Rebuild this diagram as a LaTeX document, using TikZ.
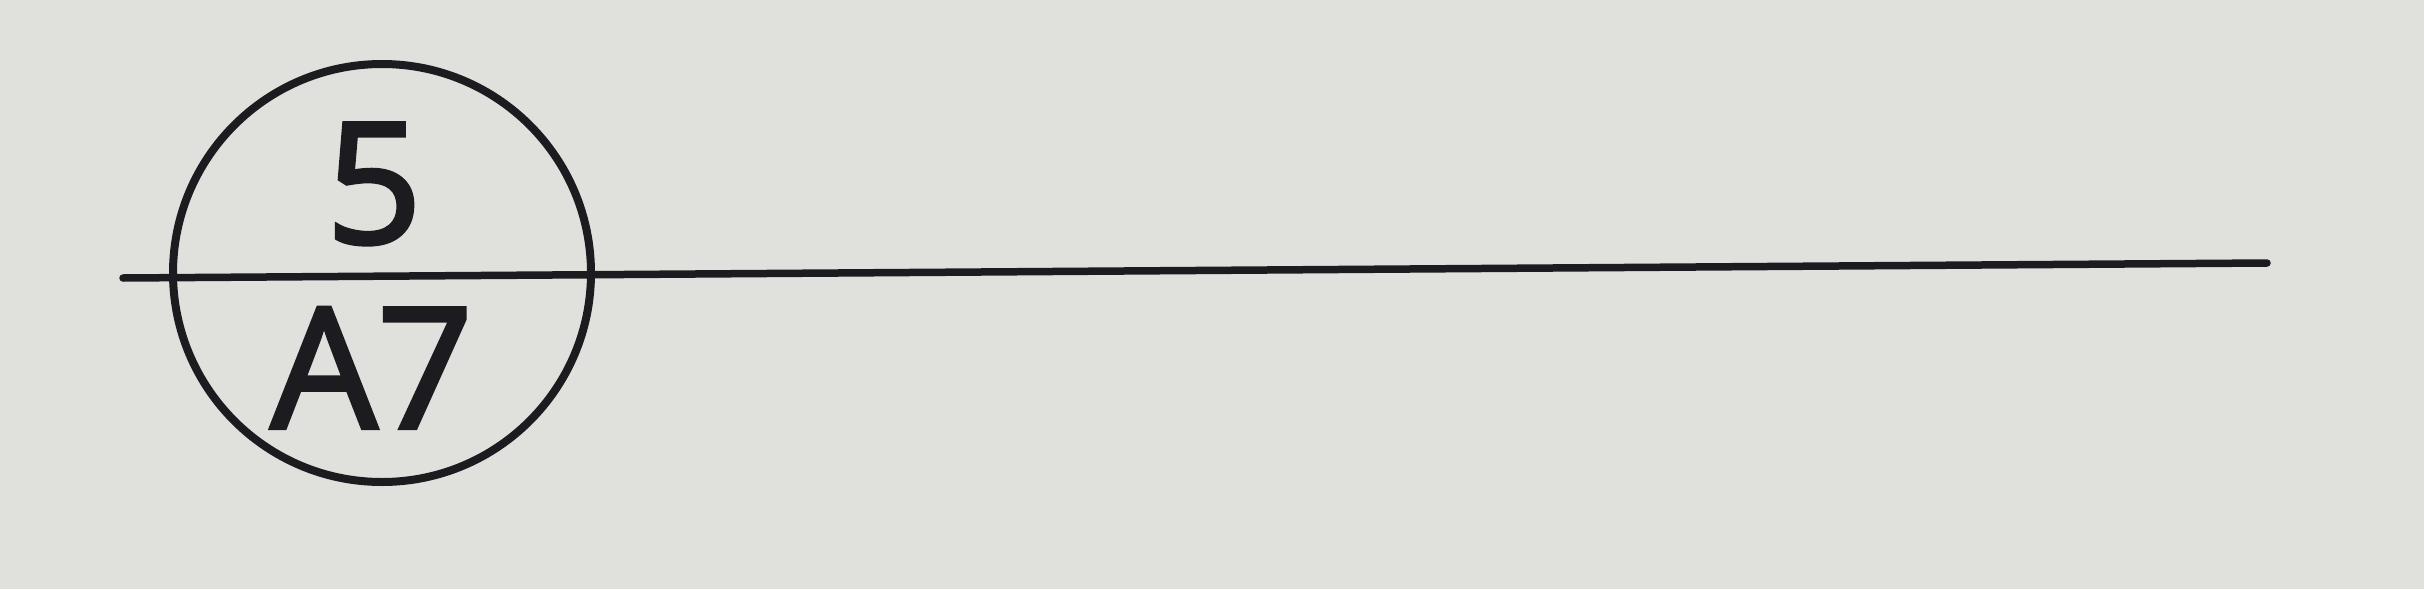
\documentclass[tikz,border=0pt]{standalone}
\usepackage{fontspec}
\newfontfamily\lblfont{Open Sans}[FakeBold=2.4]
\definecolor{paper}{RGB}{224,225,221}
\definecolor{ink}{RGB}{28,28,32}
\tikzset{
  bubble/.style={circle, draw=ink, line width=8pt, minimum size=418pt, inner sep=0pt},
  lbl/.style={anchor=base, text=ink, inner sep=0pt, font=\lblfont\fontsize{168}{168}\selectfont},
  refline/.style={draw=ink, line width=7.5pt, line cap=round}
}
\begin{document}
\begin{tikzpicture}[x=1pt,y=-1pt]
\fill[paper] (0,0) rectangle (2424,589);
\useasboundingbox (0,0) rectangle (2424,589);
\node[bubble] (c) at (382,273) {};
\coordinate (L) at (123,278);
\coordinate (R) at (2267,263);
\draw[refline] (L) -- (R);
\node[lbl] (top) at (374,243) {5};
\node[lbl] (bot) at (372,428) {A7};
\end{tikzpicture}
\end{document}
